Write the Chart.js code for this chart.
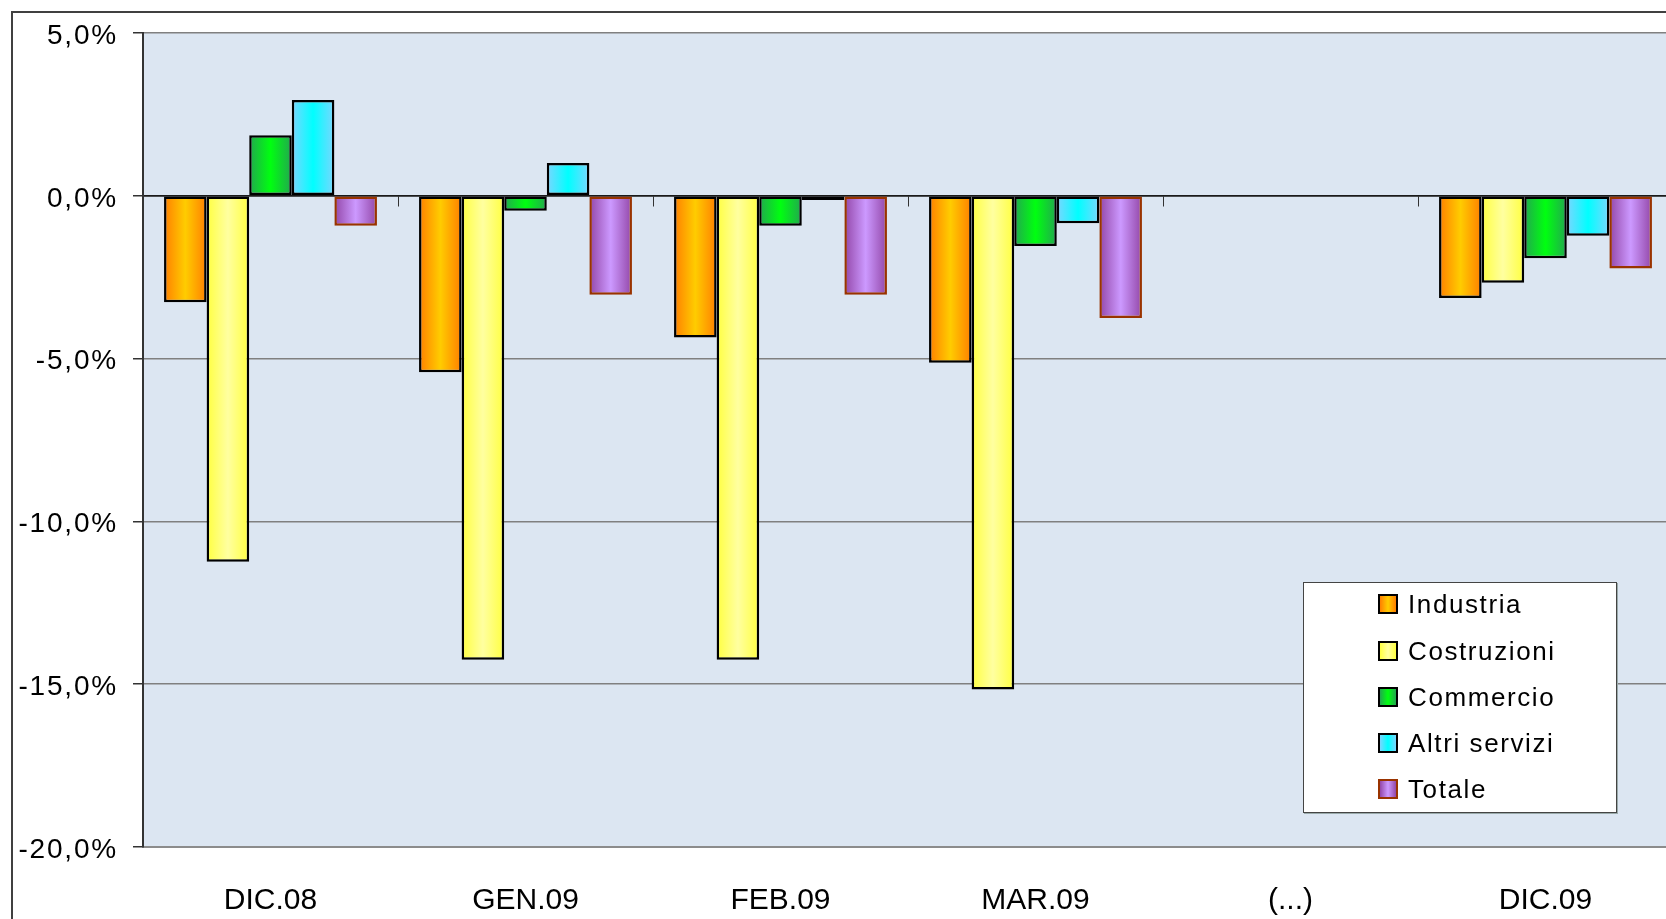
<!DOCTYPE html>
<html>
<head>
<meta charset="utf-8">
<script src="https://cdn.jsdelivr.net/npm/chart.js@4"></script>
<style>
  html, body { margin: 0; padding: 0; background: #fff; overflow: hidden; width: 1666px; height: 919px; }
  #frame { position: absolute; left: 11px; top: 11px; width: 1700px; height: 960px;
           border-left: 2px solid #404040; border-top: 2px solid #404040; }
  #wrap { position: absolute; left: 0; top: 0; width: 1690px; height: 919px; }
  #legend { position: absolute; left: 1303px; top: 582px; width: 312px; height: 229px;
            background: #fff; border: 1px solid #444; box-shadow: 1px 1px 0 #9aa;
            font-family: "Liberation Sans", Arial, sans-serif; font-size: 26px; color: #000; }
  .item { position: absolute; left: 74px; height: 30px; line-height: 30px; letter-spacing: 1.6px; white-space: nowrap; }
  .item span.box { position: absolute; left: 0; top: 5px; width: 16px; height: 16px; border: 2px solid #000; }
  .item span.txt { position: absolute; left: 30px; top: 0; }
</style>
</head>
<body>
<div id="frame"></div>
<div id="wrap"><canvas id="chart" width="1690" height="919"></canvas></div>
<div id="legend"></div>
<script>
// categories and series (percent change)
const categories = ['DIC.08', 'GEN.09', 'FEB.09', 'MAR.09', '(...)', 'DIC.09'];
const seriesNames = ['Industria', 'Costruzioni', 'Commercio', 'Altri servizi', 'Totale'];
const industria = [-3.27, -5.42, -4.35, -5.13, null, -3.14];
const costruzioni = [-11.24, -14.25, -14.25, -15.16, null, -2.67];
const commercio = [1.86, -0.46, -0.92, -1.54, null, -1.92];
const altriServizi = [2.94, 1.01, -0.13, -0.84, null, -1.23];
const totale = [-0.92, -3.04, -3.04, -3.75, null, -2.23];
const yTicks = [5, 0, -5, -10, -15, -20];

const edgeColors = ['#ff7f00', '#ffff40', '#22a84f', '#7ad6ff', '#9347a8'];
const midColors = ['#ffcc00', '#ffffa0', '#00ff10', '#00ffff', '#cc99ff'];
const borderColors = ['#000000', '#000000', '#000000', '#000000', '#993300'];

const CAT_PCT = 0.835;

// horizontal gradient across each bar, computed from the x scale
function barGradient(i) {
  return (ctx) => {
    const chart = ctx.chart;
    const xs = chart.scales.x;
    if (ctx.type !== 'data' || !xs || !xs.width) return midColors[i];
    const catW = xs.width / categories.length;
    const barW = catW * CAT_PCT / seriesNames.length;
    const left = xs.getPixelForValue(ctx.dataIndex) - catW * CAT_PCT / 2 + ctx.datasetIndex * barW;
    const g = chart.ctx.createLinearGradient(left, 0, left + barW, 0);
    g.addColorStop(0, edgeColors[i]);
    g.addColorStop(0.5, midColors[i]);
    g.addColorStop(1, edgeColors[i]);
    return g;
  };
}

const values = [industria, costruzioni, commercio, altriServizi, totale];

const plotBg = {
  id: 'plotBg',
  beforeDraw(chart) {
    const { ctx, chartArea: a } = chart;
    ctx.save();
    ctx.fillStyle = '#dce6f2';
    ctx.fillRect(a.left, a.top, a.right - a.left, a.bottom - a.top);
    ctx.restore();
  }
};

// wider letter spacing on the y tick labels, like the original
const spacedLabels = {
  id: 'spacedLabels',
  afterLayout(chart) {
    const s = chart.scales.y;
    if (s && !s._spaced) {
      const orig = s.drawLabels.bind(s);
      s.drawLabels = function (area) {
        const c = this.ctx;
        c.save();
        c.letterSpacing = '1.8px';
        orig(area);
        c.restore();
      };
      s._spaced = true;
    }
  }
};

const chart = new Chart(document.getElementById('chart'), {
  type: 'bar',
  data: {
    labels: categories,
    datasets: seriesNames.map((name, i) => ({
      label: name,
      data: values[i],
      backgroundColor: barGradient(i),
      borderColor: borderColors[i],
      borderWidth: 2.5,
      borderSkipped: false,
      categoryPercentage: CAT_PCT,
      barPercentage: 1
    }))
  },
  options: {
    responsive: false,
    animation: false,
    layout: { padding: { top: 33, right: 17, left: 0, bottom: 0 } },
    plugins: { legend: { display: false }, tooltip: { enabled: false } },
    scales: {
      x: {
        offset: true,
        grid: { display: false },
        border: { display: true, color: '#8c8c8c', width: 2 },
        ticks: {
          color: '#000',
          padding: 28,
          font: { family: '"Liberation Sans", Arial, sans-serif', size: 30 }
        },
        afterFit(scale) { scale.height = 72; }
      },
      x2: {
        type: 'category',
        position: { y: 0 },
        offset: true,
        grid: { offset: true, drawOnChartArea: false, drawTicks: true, tickLength: 10, color: '#333' },
        border: { display: true, color: '#1a1a1a', width: 1.5 },
        ticks: { display: false }
      },
      y: {
        min: -20,
        max: 5,
        afterBuildTicks(scale) { scale.ticks = yTicks.map(v => ({ value: v })); },
        grid: {
          color: (c) => c.tick && c.tick.value === 0 ? '#1a1a1a' : '#808080',
          lineWidth: 1.5,
          tickLength: 10,
          tickColor: '#333'
        },
        border: { display: true, color: '#333', width: 2 },
        ticks: {
          color: '#000',
          padding: 15,
          labelOffset: 3,
          font: { family: '"Liberation Sans", Arial, sans-serif', size: 28 },
          callback: (v) => v.toFixed(1).replace('.', ',') + '%'
        },
        afterFit(scale) { scale.width = 143; }
      }
    }
  },
  plugins: [plotBg, spacedLabels]
});

// legend built from the chart's datasets
const legendEl = document.getElementById('legend');
const rowTops = [6, 53, 99, 145, 191];
chart.data.datasets.forEach((ds, i) => {
  const item = document.createElement('div');
  item.className = 'item';
  item.style.top = rowTops[i] + 'px';
  const box = document.createElement('span');
  box.className = 'box';
  box.style.background = `linear-gradient(to right, ${edgeColors[i]}, ${midColors[i]}, ${edgeColors[i]})`;
  box.style.borderColor = borderColors[i];
  const txt = document.createElement('span');
  txt.className = 'txt';
  txt.textContent = ds.label;
  item.appendChild(box);
  item.appendChild(txt);
  legendEl.appendChild(item);
});
</script>
</body>
</html>
